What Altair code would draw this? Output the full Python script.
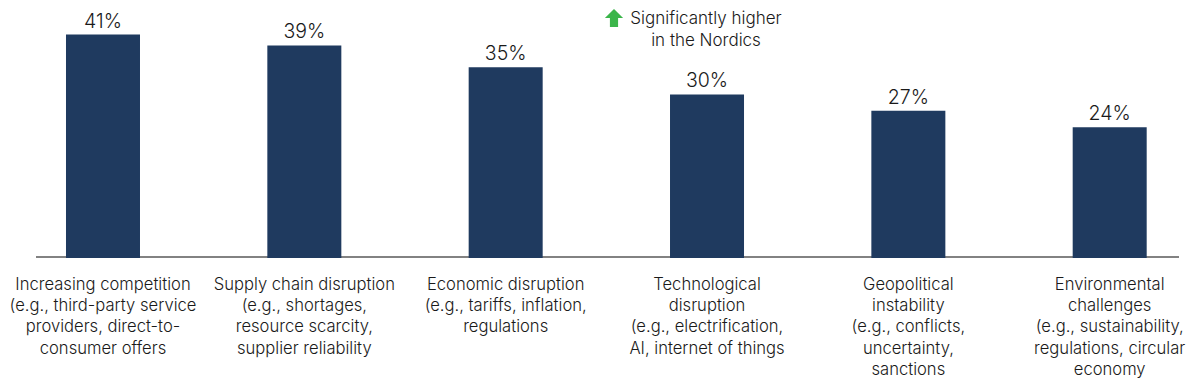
import altair as alt
import pandas as pd

categories = [
    "Increasing competition\n(e.g., third-party service\nproviders, direct-to-\nconsumer offers",
    "Supply chain disruption\n(e.g., shortages,\nresource scarcity,\nsupplier reliability",
    "Economic disruption\n(e.g., tariffs, inflation,\nregulations",
    "Technological\ndisruption\n(e.g., electrification,\nAI, internet of things",
    "Geopolitical\ninstability\n(e.g., conflicts,\nuncertainty,\nsanctions",
    "Environmental\nchallenges\n(e.g., sustainability,\nregulations, circular\neconomy",
]
values = [41, 39, 35, 30, 27, 24]
legend_text = "Significantly higher\nin the Nordics"

df = pd.DataFrame({
    "idx": list(range(len(categories))),
    "cat": categories,
    "val": values,
    "lab": [f"{v}%" for v in values],
})

FONT = "Inter"
BAR = "#1f3a5f"
TXT = "#1a1a1a"

x = alt.X("idx:Q", axis=None,
          scale=alt.Scale(domain=[-0.4718, 5.4088], nice=False, zero=False, padding=0))
y_scale = alt.Scale(domain=[-22.75, 45.87], nice=False, zero=False, padding=0)

base = alt.Chart(df)

bars = base.mark_bar(color=BAR, width=74).encode(
    x=x,
    y=alt.Y("val:Q", axis=None, scale=y_scale),
    y2=alt.datum(0),
)

vlabels = base.mark_text(font=FONT, fontSize=19.5, fontWeight=300, color=TXT,
                         baseline="alphabetic", dy=-7).encode(
    x=x,
    y=alt.Y("val:Q", axis=None, scale=y_scale),
    text="lab:N",
)

clabels = base.mark_text(font=FONT, fontSize=16.6, fontWeight=300, color=TXT, baseline="middle",
                         lineBreak="\n", lineHeight=21.2).encode(
    x=x,
    y=alt.value(277),
    text="cat:N",
)

rule = alt.Chart(pd.DataFrame({"a": [0]})).mark_rule(color="#595959", strokeWidth=1.3).encode(
    x=alt.value(28), x2=alt.value(1171), y=alt.value(249)
)

arrow = alt.Chart(pd.DataFrame({"a": [0]})).mark_point(
    shape="M0,-1 L1,0 L0.45,0 L0.45,1 L-0.45,1 L-0.45,0 L-1,0 Z",
    filled=True, color="#3bb54a", opacity=1, size=330, strokeWidth=0,
).encode(x=alt.value(606), y=alt.value(10))

legend = alt.Chart(pd.DataFrame({"t": [legend_text]})).mark_text(
    font=FONT, fontSize=17, fontWeight=300, color=TXT, baseline="middle", align="center",
    lineBreak="\n", lineHeight=22,
).encode(x=alt.value(698), y=alt.value(11), text="t:N")

chart = alt.layer(rule, bars, vlabels, clabels, arrow, legend).properties(
    width=1184, height=374,
    autosize=alt.AutoSizeParams(type="none"),
    padding=0,
).configure_view(stroke=None)

chart.save("out.html", embed_options={"renderer": "svg", "actions": False})
